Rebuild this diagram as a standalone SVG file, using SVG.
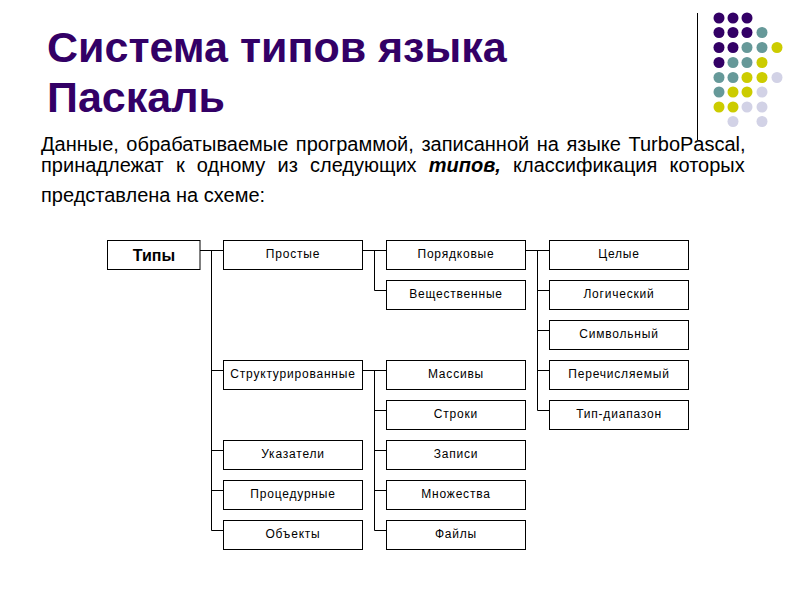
<svg xmlns="http://www.w3.org/2000/svg" width="800" height="600" viewBox="0 0 800 600">
<style>
.title{font-family:"Liberation Sans",Arial,sans-serif;font-weight:bold;font-size:43px;fill:#330066}
.para{font-family:"Liberation Sans",Arial,sans-serif;font-size:20px;fill:#000}
.box{fill:#fff;stroke:#000;stroke-width:1}
.lbl{font-family:"Liberation Sans",Arial,sans-serif;font-size:12px;letter-spacing:0.8px;fill:#000;text-anchor:middle}
.root{font-family:"Liberation Sans",Arial,sans-serif;font-size:16px;font-weight:bold;fill:#000;text-anchor:middle}
.conn{fill:none;stroke:#000;stroke-width:1}
.p{fill:#330066}.t{fill:#669999}.y{fill:#cccc00}.l{fill:#d2d2e6}
</style>
<rect width="800" height="600" fill="#fff"/>
<g id="decor">
<line x1="697.5" y1="13" x2="697.5" y2="140" stroke="#000" stroke-width="1"/>
<circle class="p" cx="719" cy="18" r="5.5"/><circle class="p" cx="733" cy="18" r="5.5"/><circle class="p" cx="747" cy="18" r="5.5"/>
<circle class="p" cx="719" cy="32.5" r="5.5"/><circle class="p" cx="733" cy="32.5" r="5.5"/><circle class="p" cx="747" cy="32.5" r="5.5"/><circle class="t" cx="762" cy="32.5" r="5.5"/>
<circle class="p" cx="719" cy="47.5" r="5.5"/><circle class="p" cx="733" cy="47.5" r="5.5"/><circle class="t" cx="747" cy="47.5" r="5.5"/><circle class="t" cx="762" cy="47.5" r="5.5"/><circle class="y" cx="777" cy="47.5" r="5.5"/>
<circle class="p" cx="719" cy="62.5" r="5.5"/><circle class="t" cx="733" cy="62.5" r="5.5"/><circle class="t" cx="747" cy="62.5" r="5.5"/><circle class="y" cx="762" cy="62.5" r="5.5"/>
<circle class="t" cx="719" cy="77.5" r="5.5"/><circle class="t" cx="733" cy="77.5" r="5.5"/><circle class="y" cx="747" cy="77.5" r="5.5"/><circle class="y" cx="762" cy="77.5" r="5.5"/><circle class="l" cx="777" cy="77.5" r="5.5"/>
<circle class="t" cx="719" cy="92" r="5.5"/><circle class="y" cx="733" cy="92" r="5.5"/><circle class="y" cx="747" cy="92" r="5.5"/><circle class="l" cx="762" cy="92" r="5.5"/>
<circle class="y" cx="719" cy="107" r="5.5"/><circle class="y" cx="733" cy="107" r="5.5"/><circle class="l" cx="747" cy="107" r="5.5"/><circle class="l" cx="762" cy="107" r="5.5"/>
<circle class="l" cx="733" cy="121.5" r="5.5"/><circle class="l" cx="762" cy="121.5" r="5.5"/>
</g>
<text class="title" x="47" y="62">Система типов языка</text>
<text class="title" x="47" y="112">Паскаль</text>
<text class="para" x="41" y="151" word-spacing="2">Данные, обрабатываемые программой, записанной на языке TurboPascal,</text>
<text class="para" x="41" y="172" word-spacing="6.6">принадлежат к одному из следующих <tspan font-weight="bold" font-style="italic">типов,</tspan> классификация которых</text>
<text class="para" x="41" y="202">представлена на схеме:</text>
<g id="connectors" class="conn">
<path d="M200,250.5H223.5"/>
<path d="M211.5,250.5V530.5M211.5,370.5H223.5M211.5,450.5H223.5M211.5,490.5H223.5M211.5,530.5H223.5"/>
<path d="M362.5,250.5H386.5M374.5,250.5V290.5H386.5"/>
<path d="M525.5,250.5H549.5M537.5,250.5V410.5M537.5,290.5H549.5M537.5,330.5H549.5M537.5,370.5H549.5M537.5,410.5H549.5"/>
<path d="M362.5,370.5H386.5M374.5,370.5V530.5M374.5,410.5H386.5M374.5,450.5H386.5M374.5,490.5H386.5M374.5,530.5H386.5"/>
</g>
<g id="n-types"><rect class="box" x="107.5" y="240.5" width="92.5" height="29"/><text class="root" x="154" y="261">Типы</text></g>
<g id="n-simple"><rect class="box" x="223.5" y="240.5" width="139" height="29"/><text class="lbl" x="293" y="258">Простые</text></g>
<g id="n-struct"><rect class="box" x="223.5" y="360.5" width="139" height="29"/><text class="lbl" x="293" y="378">Структурированные</text></g>
<g id="n-pointer"><rect class="box" x="223.5" y="440.5" width="139" height="29"/><text class="lbl" x="293" y="458">Указатели</text></g>
<g id="n-proc"><rect class="box" x="223.5" y="480.5" width="139" height="29"/><text class="lbl" x="293" y="498">Процедурные</text></g>
<g id="n-obj"><rect class="box" x="223.5" y="520.5" width="139" height="29"/><text class="lbl" x="293" y="538">Объекты</text></g>
<g id="n-ordinal"><rect class="box" x="386.5" y="240.5" width="139" height="29"/><text class="lbl" x="456" y="258">Порядковые</text></g>
<g id="n-real"><rect class="box" x="386.5" y="280.5" width="139" height="29"/><text class="lbl" x="456" y="298">Вещественные</text></g>
<g id="n-array"><rect class="box" x="386.5" y="360.5" width="139" height="29"/><text class="lbl" x="456" y="378">Массивы</text></g>
<g id="n-string"><rect class="box" x="386.5" y="400.5" width="139" height="29"/><text class="lbl" x="456" y="418">Строки</text></g>
<g id="n-record"><rect class="box" x="386.5" y="440.5" width="139" height="29"/><text class="lbl" x="456" y="458">Записи</text></g>
<g id="n-set"><rect class="box" x="386.5" y="480.5" width="139" height="29"/><text class="lbl" x="456" y="498">Множества</text></g>
<g id="n-file"><rect class="box" x="386.5" y="520.5" width="139" height="29"/><text class="lbl" x="456" y="538">Файлы</text></g>
<g id="n-int"><rect class="box" x="549.5" y="240.5" width="139" height="29"/><text class="lbl" x="619" y="258">Целые</text></g>
<g id="n-bool"><rect class="box" x="549.5" y="280.5" width="139" height="29"/><text class="lbl" x="619" y="298">Логический</text></g>
<g id="n-char"><rect class="box" x="549.5" y="320.5" width="139" height="29"/><text class="lbl" x="619" y="338">Символьный</text></g>
<g id="n-enum"><rect class="box" x="549.5" y="360.5" width="139" height="29"/><text class="lbl" x="619" y="378">Перечисляемый</text></g>
<g id="n-range"><rect class="box" x="549.5" y="400.5" width="139" height="29"/><text class="lbl" x="619" y="418">Тип-диапазон</text></g>
</svg>
